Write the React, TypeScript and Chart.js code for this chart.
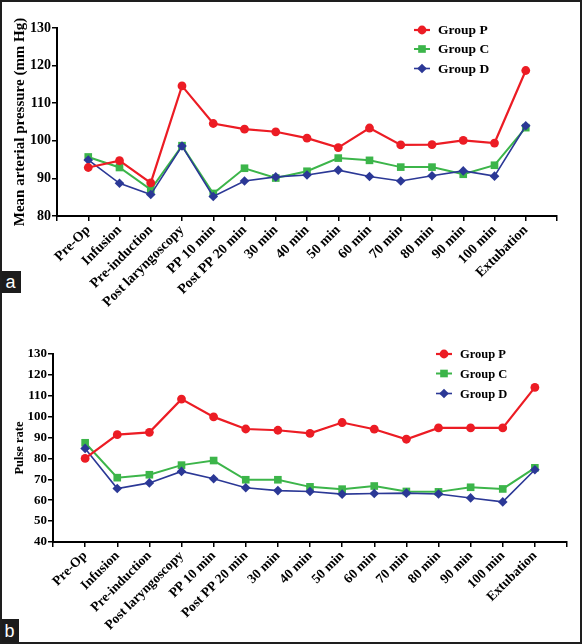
import React, { useEffect, useRef } from 'react';
import { Chart, registerables } from 'chart.js';

Chart.register(...registerables);

const categories = [
  'Pre-Op',
  'Infusion',
  'Pre-induction',
  'Post laryngoscopy',
  'PP 10 min',
  'Post PP 20 min',
  '30 min',
  '40 min',
  '50 min',
  '60 min',
  '70 min',
  '80 min',
  '90 min',
  '100 min',
  'Extubation',
];

const seriesNames = ['Group P', 'Group C', 'Group D'];

// Panel a: Mean arterial pressure (mm Hg)
const mapGroupP = [92.9, 94.7, 88.8, 114.6, 104.6, 103.1, 102.4, 100.7, 98.2, 103.4, 98.9, 99.0, 100.1, 99.4, 118.7];
const mapGroupC = [95.7, 92.9, 87.0, 98.7, 86.0, 92.7, 90.1, 91.9, 95.4, 94.8, 93.0, 93.0, 91.1, 93.5, 103.5];
const mapGroupD = [94.9, 88.7, 85.7, 98.6, 85.2, 89.3, 90.4, 90.9, 92.2, 90.5, 89.3, 90.7, 92.0, 90.6, 104.0];
const mapAxis = { min: 80, max: 130, step: 10 };

// Panel b: Pulse rate
const prGroupP = [80.0, 91.4, 92.5, 108.4, 99.9, 94.1, 93.5, 92.0, 97.2, 94.0, 89.2, 94.6, 94.6, 94.6, 114.0];
const prGroupC = [87.5, 70.8, 72.2, 76.8, 79.0, 69.8, 69.8, 66.4, 65.3, 66.8, 64.2, 64.0, 66.2, 65.4, 75.5];
const prGroupD = [84.8, 65.6, 68.3, 73.8, 70.3, 66.0, 64.6, 64.2, 62.9, 63.2, 63.4, 63.0, 61.1, 59.2, 74.6];
const prAxis = { min: 40, max: 130, step: 10 };

const RED = '#ec1c24';
const GREEN = '#3cb54a';
const BLUE = '#2b3896';
const SERIF = "'Liberation Serif', 'Times New Roman', serif";

type LegendCfg = { dxFromRight: number; rows: number[]; textGap: number; fontSize: number };

const styles = [
  { color: RED, point: 'circle', radius: 4.4, width: 2.2 },
  { color: GREEN, point: 'rect', radius: 5.4, width: 2 },
  { color: BLUE, point: 'rectRot', radius: 4.8, width: 1.6 },
];

function drawMarker(ctx: CanvasRenderingContext2D, kind: string, x: number, y: number, r: number) {
  ctx.beginPath();
  if (kind === 'circle') {
    ctx.arc(x, y, r, 0, Math.PI * 2);
  } else if (kind === 'rect') {
    const s = r * Math.SQRT1_2;
    ctx.rect(x - s, y - s, 2 * s, 2 * s);
  } else {
    ctx.moveTo(x, y - r);
    ctx.lineTo(x + r, y);
    ctx.lineTo(x, y + r);
    ctx.lineTo(x - r, y);
    ctx.closePath();
  }
  ctx.fill();
}

function makeLegendPlugin(cfg: LegendCfg) {
  return {
    id: 'figLegend',
    afterDraw(chart: any) {
      const { ctx, chartArea } = chart;
      const mx = chartArea.right - cfg.dxFromRight;
      ctx.save();
      seriesNames.forEach((name, i) => {
        const st = styles[i];
        const y = chartArea.top + cfg.rows[i];
        ctx.strokeStyle = st.color;
        ctx.fillStyle = st.color;
        ctx.lineWidth = st.width;
        ctx.beginPath();
        ctx.moveTo(mx - 8, y);
        ctx.lineTo(mx + 8, y);
        ctx.stroke();
        drawMarker(ctx, st.point, mx, y, st.radius);
        ctx.fillStyle = '#000';
        ctx.font = `bold ${cfg.fontSize}px ${SERIF}`;
        ctx.textBaseline = 'middle';
        ctx.textAlign = 'left';
        ctx.fillText(name, mx + cfg.textGap, y + 1);
      });
      ctx.restore();
    },
  };
}

type PanelCfg = {
  series: number[][];
  axis: { min: number; max: number; step: number };
  yTitle: string;
  yTitleSize: number;
  yTitlePad: number;
  yTickSize: number;
  xTickSize: number;
  yWidth: number;
  xHeight: number;
  padRight: number;
  padTop: number;
  legend: LegendCfg;
};

function Panel({ cfg, width, height }: { cfg: PanelCfg; width: number; height: number }) {
  const ref = useRef<HTMLCanvasElement | null>(null);
  useEffect(() => {
    if (!ref.current) return;
    const order = [0, 2, 1];
    const datasets = order.map((i) => ({
      label: seriesNames[i],
      data: cfg.series[i].map((y, x) => ({ x, y })),
      borderColor: styles[i].color,
      backgroundColor: styles[i].color,
      borderWidth: styles[i].width,
      pointStyle: styles[i].point,
      pointRadius: styles[i].radius,
      pointBorderWidth: 0,
      pointBackgroundColor: styles[i].color,
      tension: 0,
      fill: false,
      showLine: true,
    }));
    const tickFont = (size: number) => ({ family: SERIF, size, weight: 'bold' as const });
    const chart = new Chart(ref.current, {
      type: 'line',
      data: { datasets },
      options: {
        animation: false,
        responsive: false,
        events: [],
        layout: { padding: { left: 0, right: cfg.padRight, top: cfg.padTop, bottom: 0 } },
        plugins: { legend: { display: false }, tooltip: { enabled: false } },
        scales: {
          x: {
            type: 'linear',
            min: -1,
            max: 15,
            border: { display: true, color: '#000', width: 2 },
            grid: { display: true, drawOnChartArea: false, drawTicks: true, tickLength: 5, color: '#000', lineWidth: 1.5 },
            ticks: {
              stepSize: 1,
              maxTicksLimit: 30,
              autoSkip: false,
              maxRotation: 45,
              minRotation: 45,
              padding: 1,
              color: '#000',
              font: tickFont(cfg.xTickSize),
              callback: (v: any) => {
                const n = Number(v);
                return Number.isInteger(n) && categories[n] !== undefined ? categories[n] : '';
              },
            },
            afterFit: (s: any) => {
              s.height = cfg.xHeight;
            },
          },
          y: {
            type: 'linear',
            min: cfg.axis.min,
            max: cfg.axis.max,
            border: { display: true, color: '#000', width: 2 },
            grid: { display: true, drawOnChartArea: false, drawTicks: true, tickLength: 5, color: '#000', lineWidth: 1.5 },
            ticks: { stepSize: cfg.axis.step, padding: 1, color: '#000', font: tickFont(cfg.yTickSize) },
            title: {
              display: true,
              text: cfg.yTitle,
              color: '#000',
              font: tickFont(cfg.yTitleSize),
              padding: { top: cfg.yTitlePad, bottom: 0 },
            },
            afterFit: (s: any) => {
              s.width = cfg.yWidth;
            },
          },
        },
      } as any,
      plugins: [makeLegendPlugin(cfg.legend)],
    });
    return () => chart.destroy();
  }, [cfg]);
  return <canvas ref={ref} width={width} height={height} style={{ display: 'block', width, height }} />;
}

const panelA: PanelCfg = {
  series: [mapGroupP, mapGroupC, mapGroupD],
  axis: mapAxis,
  yTitle: 'Mean arterial pressure (mm Hg)',
  yTitleSize: 15,
  yTitlePad: 11,
  yTickSize: 14,
  xTickSize: 14,
  yWidth: 57,
  xHeight: 94,
  padRight: 25,
  padTop: 28,
  legend: { dxFromRight: 135, rows: [2, 21, 40.5], textGap: 16, fontSize: 13.5 },
};

const panelB: PanelCfg = {
  series: [prGroupP, prGroupC, prGroupD],
  axis: prAxis,
  yTitle: 'Pulse rate',
  yTitleSize: 12.5,
  yTitlePad: 12,
  yTickSize: 13,
  xTickSize: 13.5,
  yWidth: 53,
  xHeight: 102,
  padRight: 15,
  padTop: 44,
  legend: { dxFromRight: 123, rows: [0, 19.5, 39.5], textGap: 16, fontSize: 12.5 },
};

const tagStyle: React.CSSProperties = {
  position: 'absolute',
  left: 0,
  background: '#1c1c1c',
  color: '#fff',
  fontFamily: "'Liberation Sans', Arial, sans-serif",
  fontSize: 18,
  lineHeight: '22px',
  textAlign: 'center',
};

export default function App() {
  return (
    <div style={{ position: 'absolute', left: 0, top: 0, width: 582, height: 644, background: '#fff', overflow: 'hidden' }}>
      <div style={{ position: 'absolute', left: 0, top: 0 }}>
        <Panel cfg={panelA} width={582} height={310} />
      </div>
      <div style={{ position: 'absolute', left: 0, top: 310 }}>
        <Panel cfg={panelB} width={582} height={334} />
      </div>
      <div style={{ ...tagStyle, top: 271, width: 21, height: 22 }}>a</div>
      <div style={{ ...tagStyle, top: 619, width: 19, height: 25, lineHeight: '24px' }}>b</div>
      <div
        style={{
          position: 'absolute',
          left: 0,
          top: 0,
          width: 582,
          height: 644,
          boxSizing: 'border-box',
          border: '2px solid #1e1e1e',
          pointerEvents: 'none',
        }}
      />
    </div>
  );
}
